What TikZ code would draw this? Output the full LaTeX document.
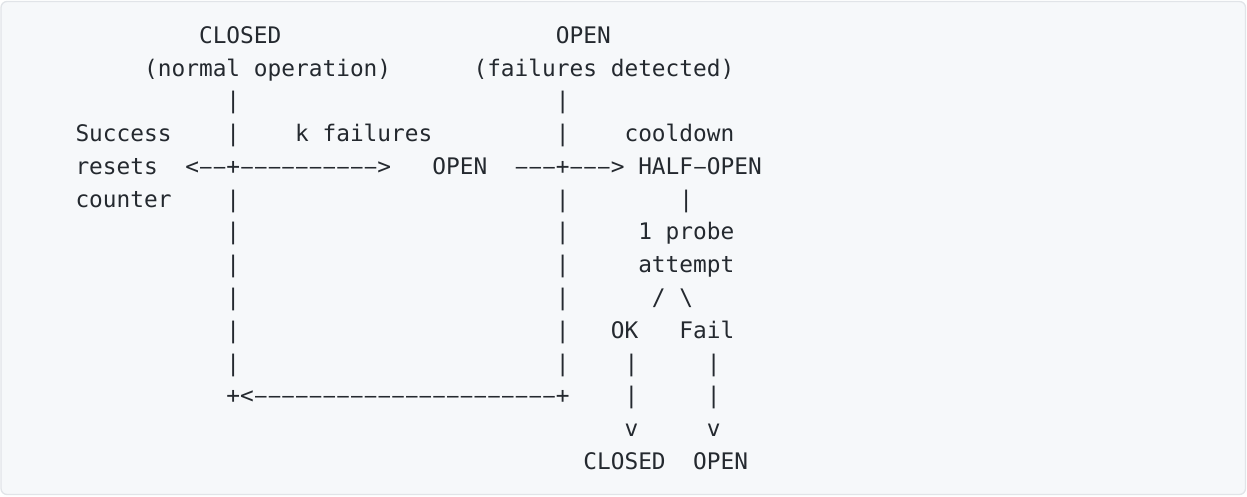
\documentclass[tikz,border=0pt]{standalone}
\usepackage{fontspec}
\usepackage{graphicx}
\setmonofont{DejaVu Sans Mono}
\definecolor{bgc}{HTML}{F6F8FA}
\definecolor{bdc}{HTML}{E1E4E8}
\definecolor{txc}{HTML}{24292F}
% place text run #4 named #1 at column #2 of line #3
\newcommand\asciirun[4]{\node[tx] (#1) at ({75.5+#2*13.7256},{43.3+(#3-1)*32.77}) {#4};}
% one wide dash filling most of a character cell
\newcommand\dsh{\makebox[0.602em]{\scalebox{0.84}[1]{–}}}
\newcommand\dn[1]{\foreach \dk in {1,...,#1}{\dsh}}
\begin{document}
\begin{tikzpicture}[x=1pt,y=-1pt,
  tx/.style={inner sep=0pt,outer sep=0pt,anchor=base west,text=txc,
    font=\ttfamily\fontsize{22.8pt}{27pt}\selectfont}]
\useasboundingbox (0,0) rectangle (1247,496);
\draw[fill=bgc,draw=bdc,line width=1.3pt,rounded corners=6pt] (1,1.5) rectangle (1245.5,494.5);
% line 1
\asciirun{closedtop}{9}{1}{CLOSED}
\asciirun{opentop}{35}{1}{OPEN}
% line 2
\asciirun{normal}{5}{2}{(normal operation)}
\asciirun{detected}{29}{2}{(failures detected)}
% line 3
\asciirun{pa3}{11}{3}{|}
\asciirun{pb3}{35}{3}{|}
% line 4
\asciirun{success}{0}{4}{Success}
\asciirun{pa4}{11}{4}{|}
\asciirun{kfail}{16}{4}{k failures}
\asciirun{pb4}{35}{4}{|}
\asciirun{cooldown}{40}{4}{cooldown}
% line 5
\asciirun{resets}{0}{5}{resets}
\asciirun{arrowa}{8}{5}{<\dn{2}+\dn{10}>}
\asciirun{openmid}{26}{5}{OPEN}
\asciirun{arrowb}{32}{5}{\dn{3}+\dn{3}>}
\asciirun{halfopen}{41}{5}{HALF\dsh OPEN}
% line 6
\asciirun{counter}{0}{6}{counter}
\asciirun{pa6}{11}{6}{|}
\asciirun{pb6}{35}{6}{|}
\asciirun{pc6}{44}{6}{|}
% line 7
\asciirun{pa7}{11}{7}{|}
\asciirun{pb7}{35}{7}{|}
\asciirun{probe}{41}{7}{1 probe}
% line 8
\asciirun{pa8}{11}{8}{|}
\asciirun{pb8}{35}{8}{|}
\asciirun{attempt}{41}{8}{attempt}
% line 9
\asciirun{pa9}{11}{9}{|}
\asciirun{pb9}{35}{9}{|}
\asciirun{slash}{42}{9}{/}
\asciirun{bslash}{44}{9}{\textbackslash}
% line 10
\asciirun{pa10}{11}{10}{|}
\asciirun{pb10}{35}{10}{|}
\asciirun{ok}{39}{10}{OK}
\asciirun{fail}{44}{10}{Fail}
% line 11
\asciirun{pa11}{11}{11}{|}
\asciirun{pb11}{35}{11}{|}
\asciirun{pc11}{40}{11}{|}
\asciirun{pd11}{46}{11}{|}
% line 12
\asciirun{returnline}{11}{12}{+<\dn{22}+}
\asciirun{pc12}{40}{12}{|}
\asciirun{pd12}{46}{12}{|}
% line 13
\asciirun{va}{40}{13}{v}
\asciirun{vb}{46}{13}{v}
% line 14
\asciirun{closedbot}{37}{14}{CLOSED}
\asciirun{openbot}{45}{14}{OPEN}
\end{tikzpicture}
\end{document}
